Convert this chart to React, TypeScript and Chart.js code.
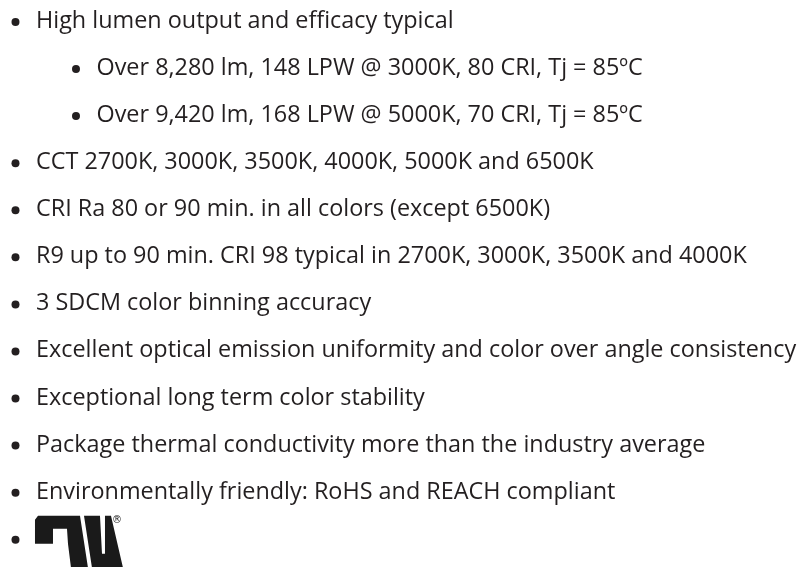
import React, { useEffect, useRef } from "react";
import { Chart, registerables } from "chart.js";

Chart.register(...registerables);

// Bullet list content (text of each row) and indentation level of each row
const items: string[] = [
  "High lumen output and efficacy typical",
  "Over 8,280 lm, 148 LPW @ 3000K, 80 CRI, Tj = 85ºC",
  "Over 9,420 lm, 168 LPW @ 5000K, 70 CRI, Tj = 85ºC",
  "CCT 2700K, 3000K, 3500K, 4000K, 5000K and 6500K",
  "CRI Ra 80 or 90 min. in all colors (except 6500K)",
  "R9 up to 90 min. CRI 98 typical in 2700K, 3000K, 3500K and 4000K",
  "3 SDCM color binning accuracy",
  "Excellent optical emission uniformity and color over angle consistency",
  "Exceptional long term color stability",
  "Package thermal conductivity more than the industry average",
  "Environmentally friendly: RoHS and REACH compliant",
  "",
];
const levels: number[] = [0, 1, 1, 0, 0, 0, 0, 0, 0, 0, 0, 0];
const rows: number[] = items.map((_, i) => i);
const logoRow = 11;
const registeredMark = "®";

const TEXT_COLOR = "#231f20";
const FONT = '23.4px "Open Sans"';

// UL recognized-component mark outline, relative to its bullet
const logoPartA: [number, number][] = [
  [19.5, -20], [22.5, -24], [64.5, -24], [72.5, 28], [55.5, 28],
  [52.5, 4], [51.5, -11], [37.5, -11], [37.5, 4], [19.5, 4],
];
const logoPartB: [number, number][] = [
  [68.5, -24], [84.5, -24], [86.5, 14], [89.5, 14], [89.5, -24],
  [95.5, -24], [107.5, 28], [76.5, 28],
];

const listPlugin = {
  id: "bulletText",
  afterDraw(chart: any) {
    const ctx: CanvasRenderingContext2D = chart.ctx;
    const meta = chart.getDatasetMeta(0);
    ctx.save();
    ctx.fillStyle = TEXT_COLOR;
    ctx.font = FONT;
    ctx.textBaseline = "alphabetic";
    ctx.textAlign = "left";
    meta.data.forEach((pt: any, i: number) => {
      if (!items[i]) return;
      ctx.fillText(items[i], pt.x + 20.5, pt.y + 6);
    });
    const lp = meta.data[logoRow];
    if (lp) {
      const bx = lp.x, by = lp.y;
      ctx.fillStyle = "#1a1a1a";
      [logoPartA, logoPartB].forEach((part) => {
        ctx.beginPath();
        part.forEach(([dx, dy], k) => {
          if (k === 0) ctx.moveTo(bx + dx, by + dy);
          else ctx.lineTo(bx + dx, by + dy);
        });
        ctx.closePath();
        ctx.fill();
      });
      ctx.font = '10px "DejaVu Sans"';
      ctx.textAlign = "center";
      ctx.textBaseline = "middle";
      ctx.fillText(registeredMark, bx + 101.5, by - 19);
    }
    ctx.restore();
  },
};

export default function App() {
  const ref = useRef<HTMLCanvasElement | null>(null);
  useEffect(() => {
    if (!ref.current) return;
    const chart = new Chart(ref.current, {
      type: "scatter",
      data: {
        datasets: [
          {
            data: rows.map((r, i) => ({ x: levels[i], y: r })),
            pointRadius: 4,
            pointHoverRadius: 4,
            pointBackgroundColor: TEXT_COLOR,
            pointBorderWidth: 0,
            clip: false as any,
          },
        ],
      },
      options: {
        responsive: false,
        animation: false,
        events: [],
        layout: { padding: 0, autoPadding: false },
        plugins: { legend: { display: false }, tooltip: { enabled: false } },
        scales: {
          x: { type: "linear", min: -0.256, max: 13.1, display: false },
          y: { type: "linear", min: -0.467, max: 11.579, reverse: true, display: false },
        },
      },
      plugins: [listPlugin],
    });
    return () => chart.destroy();
  }, []);
  return (
    <div style={{ position: "fixed", left: 0, top: 0, width: 808, height: 567, background: "#fff" }}>
      <canvas ref={ref} width={808} height={567} />
    </div>
  );
}
